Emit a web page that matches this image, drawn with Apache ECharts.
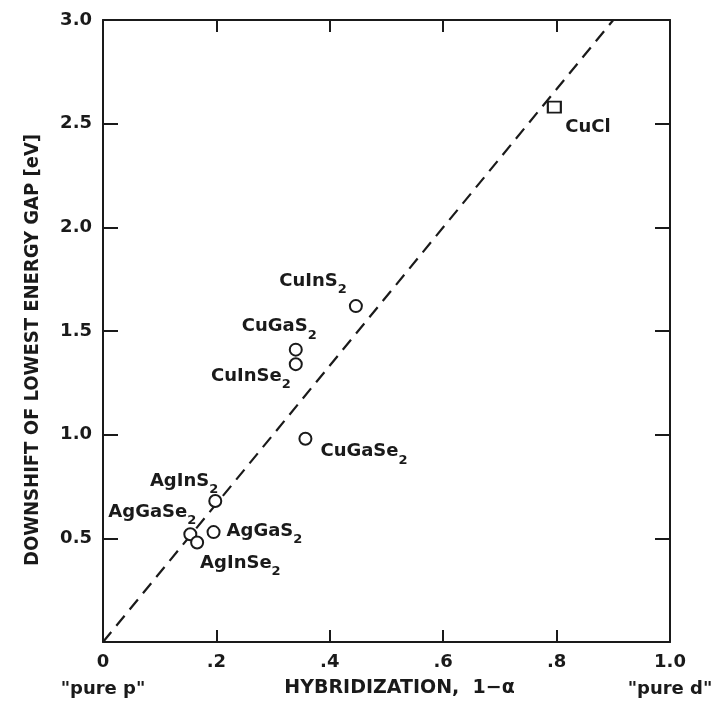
<!DOCTYPE html>
<html>
<head>
<meta charset="utf-8">
<script src="https://cdn.jsdelivr.net/npm/echarts@6/dist/echarts.min.js"></script>
<style>
  html, body { margin: 0; padding: 0; background: #fff; }
  #chart { width: 718px; height: 711px; }
</style>
</head>
<body>
<div id="chart"></div>
<script>
// ---- Data ----
const compounds = ['CuInS2', 'CuGaS2', 'CuInSe2', 'CuGaSe2', 'AgInS2', 'AgGaSe2', 'AgGaS2', 'AgInSe2'];
const hybridization = [0.446, 0.340, 0.340, 0.357, 0.198, 0.154, 0.195, 0.166];
const downshift = [1.62, 1.41, 1.34, 0.98, 0.68, 0.52, 0.53, 0.48];

const halideNames = ['CuCl'];
const halideHybridization = [0.796];
const halideDownshift = [2.58];

const fitX = [0, 0.90];
const fitY = [0, 3.0];

const xTicks = [0, 0.2, 0.4, 0.6, 0.8, 1.0];
const yTicks = [0.5, 1.0, 1.5, 2.0, 2.5, 3.0];

// ---- Styling (label placement, not data) ----
const labelPlacement = {
  'CuInS2':  { align: 'right', offset: [-9, -25] },
  'CuGaS2':  { align: 'right', offset: [21, -23] },
  'CuInSe2': { align: 'right', offset: [-5, 12] },
  'CuGaSe2': { align: 'left',  offset: [15, 13] },
  'AgInS2':  { align: 'right', offset: [3, -20] },
  'AgGaSe2': { align: 'right', offset: [6, -22] },
  'AgGaS2':  { align: 'left',  offset: [13, -1] },
  'AgInSe2': { align: 'left',  offset: [3, 21] },
  'CuCl':    { align: 'left',  offset: [11, 20] }
};

const INK = '#1a1a1a';
const FONT = '"DejaVu Sans", sans-serif';
const FONT_C = '"DejaVu Sans Condensed", "DejaVu Sans", sans-serif';

const subRich = {
  s: { fontSize: 13, fontWeight: 'bold', fontFamily: FONT, color: INK, verticalAlign: 'bottom', lineHeight: 30,
       textBorderWidth: 0, textBorderColor: 'transparent' }
};

function fmtName(n) { return n.replace(/(\d)/g, '{s|$1}'); }

function makeItems(names, xs, ys) {
  return names.map((n, i) => ({
    name: n,
    value: [xs[i], ys[i]],
    label: {
      show: true,
      position: 'inside',
      align: labelPlacement[n].align,
      verticalAlign: 'middle',
      offset: labelPlacement[n].offset,
      formatter: fmtName(n),
      color: INK,
      opacity: 1,
      textBorderWidth: 0,
      textBorderColor: 'transparent',
      fontSize: 18,
      fontWeight: 'bold',
      fontFamily: FONT,
      rich: subRich
    }
  }));
}

const chart = echarts.init(document.getElementById('chart'), null, { renderer: 'canvas' });

const axisLineStyle = { color: INK, width: 2 };

const option = {
  backgroundColor: '#fff',
  animation: false,
  grid: { left: 103, right: 48, top: 20, bottom: 69, containLabel: false, outerBoundsMode: 'none' },
  xAxis: [
    {
      type: 'value', min: 0, max: 1.0, interval: 0.2, position: 'bottom',
      axisLine: { show: true, onZero: false, lineStyle: axisLineStyle },
      axisTick: { show: true, inside: true, length: 12, lineStyle: { color: INK, width: 2 } },
      splitLine: { show: false },
      axisLabel: {
        margin: 8,
        color: INK, fontSize: 18, fontWeight: 'bold', fontFamily: FONT,
        lineHeight: 24,
        formatter: function (v) {
          if (v === 0) return '0\n{q|"pure p"}';
          if (Math.abs(v - 1) < 1e-9) return '1.0\n{q|"pure d"}';
          return v.toFixed(1).replace(/^0/, '');
        },
        rich: { q: { fontSize: 18, fontWeight: 'bold', fontFamily: FONT, color: INK, lineHeight: 30 } }
      },
      name: 'HYBRIDIZATION,  1\u2212\u03b1',
      nameLocation: 'middle',
      nameGap: 37,
      nameMoveOverlap: false,
      nameTextStyle: { color: INK, fontSize: 19, fontWeight: 'bold', fontFamily: FONT, padding: [0, 0, 0, 26] }
    },
    {
      type: 'value', min: 0, max: 1.0, interval: 0.2, position: 'top',
      axisLine: { show: true, onZero: false, lineStyle: axisLineStyle },
      axisTick: { show: true, inside: true, length: 12, lineStyle: { color: INK, width: 2 } },
      axisLabel: { show: false },
      splitLine: { show: false }
    }
  ],
  yAxis: [
    {
      type: 'value', min: 0, max: 3.0, interval: 0.5, position: 'left',
      axisLine: { show: true, onZero: false, lineStyle: axisLineStyle },
      axisTick: { show: true, inside: true, length: 15, lineStyle: { color: INK, width: 2 } },
      splitLine: { show: false },
      axisLabel: {
        margin: 11, color: INK, fontSize: 18, fontWeight: 'bold', fontFamily: FONT,
        formatter: function (v) { return yTicks.some(t => Math.abs(t - v) < 1e-9) ? v.toFixed(1) : ''; }
      },
      name: 'DOWNSHIFT OF LOWEST ENERGY GAP [eV]',
      nameLocation: 'middle',
      nameGap: 60,
      nameMoveOverlap: false,
      nameTextStyle: { color: INK, fontSize: 20, fontWeight: 'bold', fontFamily: FONT_C, padding: [0, 38, 0, 0] }
    },
    {
      type: 'value', min: 0, max: 3.0, interval: 0.5, position: 'right',
      axisLine: { show: true, onZero: false, lineStyle: axisLineStyle },
      axisTick: { show: true, inside: true, length: 15, lineStyle: { color: INK, width: 2 } },
      axisLabel: { show: false },
      splitLine: { show: false }
    }
  ],
  series: [
    {
      type: 'line',
      data: fitX.map((x, i) => [x, fitY[i]]),
      showSymbol: false,
      symbol: 'none',
      lineStyle: { color: INK, width: 2.2, type: [13, 8] },
      silent: true,
      z: 1
    },
    {
      type: 'scatter',
      symbol: 'circle',
      symbolSize: 12,
      itemStyle: { color: '#fff', borderColor: INK, borderWidth: 2, opacity: 1 },
      data: makeItems(compounds, hybridization, downshift),
      z: 3
    },
    {
      type: 'scatter',
      symbol: 'rect',
      symbolSize: [13, 11],
      itemStyle: { color: '#fff', borderColor: INK, borderWidth: 2, opacity: 1 },
      data: makeItems(halideNames, halideHybridization, halideDownshift),
      z: 3
    }
  ]
};

chart.setOption(option);
</script>
</body>
</html>
